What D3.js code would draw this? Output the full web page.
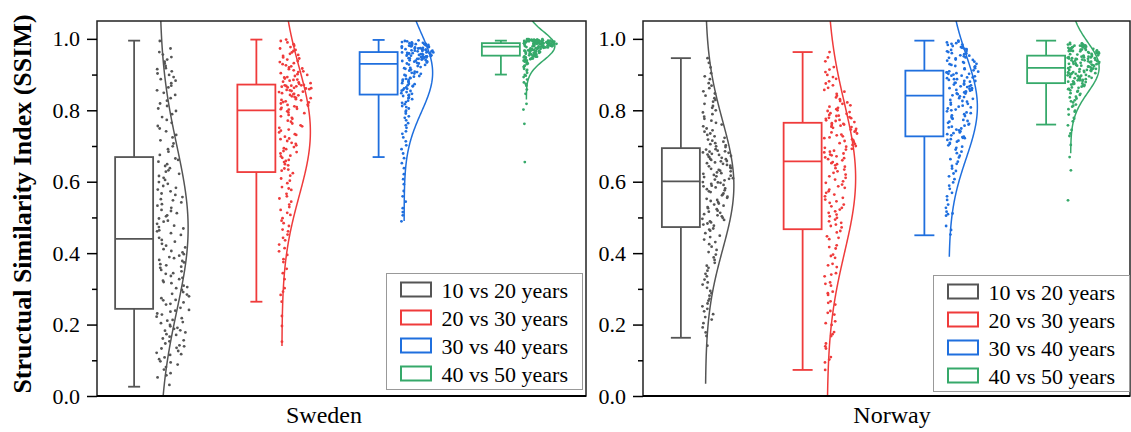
<!DOCTYPE html>
<html lang="en">
<head>
<meta charset="UTF-8">
<title>SSIM raincloud plots</title>
<script src="https://d3js.org/d3.v7.min.js"></script>
<style>
  body { margin: 0; background: #fff; }
</style>
</head>
<body>
<div id="chart"></div>
<script>
const groups = ["10 vs 20 years", "20 vs 30 years", "30 vs 40 years", "40 vs 50 years"];
const colors = ["#555555", "#ef3b3b", "#1f6fde", "#36a96a"];
const regions = ["Sweden", "Norway"];
const yTicks = [0, 0.2, 0.4, 0.6, 0.8, 1.0];
const yMinorTicks = [0.1, 0.3, 0.5, 0.7, 0.9];

// box stats: [lower whisker, Q1, median, Q3, upper whisker]
const swedenBox = [
  [0.026, 0.244, 0.440, 0.669, 0.995],
  [0.264, 0.627, 0.800, 0.872, 0.998],
  [0.669, 0.844, 0.930, 0.963, 0.997],
  [0.900, 0.953, 0.978, 0.988, 0.995]
];
const norwayBox = [
  [0.163, 0.473, 0.601, 0.694, 0.946],
  [0.073, 0.467, 0.657, 0.765, 0.963],
  [0.450, 0.727, 0.841, 0.911, 0.995],
  [0.760, 0.876, 0.919, 0.953, 0.995]
];

// fitted normal curves: [mean, sd, from, to]
const swedenCurve = [
  [0.47, 0.23, 0.00, 1.10],
  [0.74, 0.18, 0.14, 1.10],
  [0.905, 0.11, 0.49, 1.10],
  [0.98, 0.04, 0.83, 1.10]
];
const norwayCurve = [
  [0.59, 0.18, 0.034, 1.10],
  [0.61, 0.21, 0.00, 1.10],
  [0.81, 0.145, 0.39, 1.10],
  [0.92, 0.07, 0.68, 1.10]
];

// SSIM values
const swe1020 = [0.031,0.052,0.058,0.074,0.081,0.094,0.097,0.108,0.115,0.117,0.126,0.133,0.139,0.142,0.153,0.156,0.166,0.171,0.173,0.184,0.188,0.191,0.199,0.204,0.211,0.213,0.222,0.228,0.236,0.241,
  0.247,0.256,0.258,0.268,0.269,0.279,0.284,0.286,0.297,0.302,0.305,0.316,0.319,0.327,0.331,0.342,0.344,0.353,0.359,0.366,0.369,0.378,0.386,0.389,0.397,0.406,0.411,0.421,0.426,0.437,
  0.443,0.451,0.461,0.464,0.473,0.477,0.488,0.491,0.503,0.506,0.518,0.521,0.533,0.537,0.548,0.551,0.563,0.567,0.578,0.583,0.594,0.599,0.611,0.616,0.628,0.632,0.644,0.649,0.661,0.665,
  0.675,0.684,0.699,0.707,0.724,0.731,0.749,0.756,0.773,0.781,0.798,0.805,0.819,0.827,0.843,0.849,0.864,0.869,0.883,0.887,0.899,0.903,0.915,0.918,0.931,0.936,0.949,0.956,0.973,0.994,
  0.064,0.088,0.103,0.121,0.135,0.147,0.161,0.178,0.183,0.195,0.207,0.218,0.231,0.239,
  0.262,0.274,0.291,0.309,0.323,0.336,0.349,0.362,0.374,0.381,0.393,0.402,0.416,0.432,
  0.456,0.469,0.482,0.497,0.512,0.527,0.542,0.557,0.573,0.588,0.605,0.622,0.638,0.656,
  0.691,0.716,0.741,0.765,0.789,0.812,0.834,0.856,0.876,0.893,0.909,0.924,0.942,0.963];
const swe2030 = [0.152,0.224,0.264,0.283,0.302,0.327,0.344,0.375,0.383,0.405,0.414,0.436,0.443,0.461,0.466,0.484,0.491,0.507,0.513,0.529,0.536,0.553,0.559,0.577,0.585,0.603,0.609,0.624,
  0.631,0.637,0.646,0.649,0.658,0.661,0.671,0.673,0.683,0.686,0.694,0.697,0.706,0.709,0.719,0.721,0.731,0.733,0.743,0.746,0.755,0.758,0.768,0.771,0.779,0.783,0.792,0.797,
  0.802,0.804,0.809,0.811,0.815,0.816,0.822,0.823,0.828,0.829,0.834,0.835,0.839,0.842,0.845,0.846,0.851,0.852,0.856,0.857,0.861,0.862,0.864,0.866,0.867,0.869,0.870,0.871,
  0.874,0.878,0.880,0.885,0.886,0.892,0.893,0.899,0.901,0.907,0.909,0.915,0.917,0.923,0.926,0.932,0.935,0.942,0.945,0.952,0.955,0.962,0.966,0.973,0.977,0.985,0.990,0.998,
  0.196,0.292,0.356,0.395,0.424,0.452,0.476,0.498,0.521,0.544,0.566,0.581,0.596,0.617,
  0.634,0.655,0.667,0.679,0.691,0.702,0.714,0.726,0.738,0.751,0.763,0.776,0.787,0.794,
  0.803,0.807,0.813,0.819,0.825,0.831,0.837,0.843,0.848,0.854,0.859,0.863,0.868,0.870,
  0.876,0.883,0.889,0.896,0.904,0.912,0.920,0.929,0.938,0.948,0.958,0.969,0.981,0.994];
const swe3040 = [0.489,0.506,0.526,0.544,0.574,0.593,0.621,0.638,0.666,0.679,0.702,0.713,0.734,0.741,0.758,0.764,0.779,0.783,0.796,0.799,0.809,0.812,0.821,0.823,0.831,0.834,0.840,0.842,
  0.846,0.848,0.854,0.855,0.860,0.861,0.867,0.868,0.873,0.874,0.879,0.880,0.885,0.886,0.890,0.891,0.896,0.897,0.902,0.903,0.907,0.908,0.913,0.914,0.918,0.919,0.924,0.927,
  0.931,0.931,0.934,0.935,0.937,0.939,0.940,0.941,0.943,0.944,0.945,0.947,0.948,0.949,0.950,0.951,0.952,0.953,0.954,0.956,0.956,0.957,0.958,0.959,0.960,0.961,0.962,0.962,
  0.964,0.965,0.966,0.967,0.968,0.969,0.970,0.971,0.972,0.973,0.974,0.975,0.976,0.977,0.978,0.979,0.980,0.981,0.982,0.983,0.984,0.985,0.986,0.988,0.989,0.991,0.993,0.996,
  0.515,0.559,0.607,0.652,0.691,0.724,0.751,0.772,0.791,0.805,0.817,0.827,0.836,0.843,
  0.851,0.857,0.864,0.870,0.876,0.882,0.888,0.894,0.899,0.905,0.911,0.916,0.921,0.928,
  0.933,0.936,0.938,0.942,0.944,0.946,0.949,0.951,0.953,0.955,0.957,0.959,0.960,0.962,
  0.965,0.967,0.969,0.971,0.973,0.975,0.977,0.979,0.981,0.983,0.985,0.987,0.990,0.994];
const swe4050 = [0.655,0.762,0.818,0.846,0.858,0.869,0.878,0.886,0.893,0.899,0.905,0.911,0.916,0.921,0.925,0.929,0.933,0.936,0.939,0.941,0.943,0.945,0.947,0.948,0.949,0.950,0.951,0.952,
  0.954,0.955,0.956,0.957,0.958,0.959,0.960,0.961,0.962,0.963,0.964,0.965,0.966,0.966,0.967,0.968,0.969,0.970,0.971,0.971,0.972,0.973,0.974,0.975,0.975,0.976,0.977,0.977,
  0.978,0.979,0.979,0.980,0.980,0.981,0.981,0.982,0.982,0.983,0.983,0.984,0.984,0.984,0.985,0.985,0.985,0.986,0.986,0.986,0.987,0.987,0.987,0.988,0.988,0.988,0.988,0.988,
  0.989,0.989,0.989,0.990,0.990,0.990,0.991,0.991,0.991,0.992,0.992,0.992,0.993,0.993,0.993,0.994,0.994,0.995,0.995,0.995,0.996,0.996,0.997,0.997,0.998,0.998,0.999,0.999,
  0.802,0.874,0.897,0.913,0.923,0.931,0.937,0.940,0.944,0.946,0.948,0.950,0.951,0.953,
  0.955,0.957,0.959,0.961,0.963,0.965,0.967,0.969,0.970,0.972,0.974,0.975,0.976,0.977,
  0.978,0.979,0.980,0.981,0.982,0.983,0.984,0.985,0.985,0.986,0.987,0.987,0.988,0.988,
  0.989,0.990,0.990,0.991,0.992,0.992,0.993,0.994,0.994,0.995,0.996,0.997,0.998,0.999];

const nor1020 = [0.141,0.168,0.192,0.204,0.221,0.229,0.244,0.251,0.267,0.272,0.288,0.294,0.312,0.318,0.335,0.342,0.359,0.365,0.381,0.388,0.403,0.409,0.425,0.431,0.445,0.449,0.463,0.469,
  0.477,0.483,0.486,0.493,0.496,0.503,0.506,0.513,0.516,0.523,0.526,0.533,0.536,0.543,0.546,0.552,0.555,0.562,0.564,0.571,0.573,0.579,0.581,0.587,0.589,0.594,0.597,0.599,
  0.604,0.608,0.610,0.615,0.617,0.622,0.624,0.629,0.631,0.636,0.638,0.643,0.645,0.650,0.652,0.657,0.658,0.663,0.664,0.669,0.670,0.675,0.676,0.681,0.682,0.684,0.687,0.690,
  0.697,0.702,0.705,0.712,0.715,0.723,0.727,0.735,0.740,0.749,0.755,0.765,0.771,0.782,0.789,0.800,0.807,0.818,0.824,0.834,0.841,0.853,0.862,0.876,0.887,0.904,0.920,0.946,
  0.178,0.214,0.237,0.259,0.281,0.303,0.326,0.351,0.373,0.396,0.418,0.438,0.456,0.466,
  0.480,0.489,0.499,0.509,0.519,0.529,0.539,0.549,0.558,0.567,0.576,0.584,0.591,0.598,
  0.606,0.613,0.619,0.626,0.633,0.640,0.647,0.654,0.661,0.667,0.672,0.678,0.685,0.691,
  0.699,0.708,0.718,0.731,0.744,0.760,0.776,0.794,0.812,0.829,0.847,0.869,0.895,0.933];
const nor2030 = [0.073,0.094,0.109,0.133,0.147,0.168,0.179,0.199,0.209,0.228,0.238,0.256,0.265,0.283,0.292,0.309,0.318,0.335,0.344,0.361,0.370,0.387,0.396,0.413,0.422,0.439,0.447,0.462,
  0.472,0.480,0.485,0.494,0.499,0.508,0.513,0.522,0.527,0.536,0.541,0.550,0.555,0.564,0.569,0.578,0.583,0.592,0.597,0.606,0.611,0.620,0.625,0.634,0.638,0.646,0.649,0.655,
  0.660,0.666,0.668,0.674,0.676,0.682,0.684,0.690,0.692,0.698,0.700,0.706,0.708,0.714,0.716,0.722,0.724,0.730,0.732,0.738,0.740,0.746,0.748,0.753,0.754,0.759,0.760,0.764,
  0.767,0.772,0.773,0.778,0.779,0.784,0.785,0.790,0.792,0.798,0.800,0.807,0.810,0.818,0.822,0.831,0.836,0.846,0.852,0.863,0.870,0.881,0.888,0.899,0.907,0.921,0.937,0.963,
  0.102,0.139,0.173,0.204,0.233,0.261,0.288,0.314,0.340,0.366,0.392,0.417,0.443,0.458,
  0.476,0.489,0.503,0.517,0.531,0.545,0.559,0.573,0.587,0.601,0.615,0.629,0.642,0.652,
  0.663,0.671,0.679,0.687,0.695,0.703,0.711,0.719,0.727,0.735,0.743,0.751,0.757,0.762,
  0.770,0.776,0.781,0.787,0.795,0.803,0.814,0.826,0.841,0.857,0.875,0.893,0.914,0.948];
const nor3040 = [0.452,0.476,0.505,0.511,0.516,0.536,0.549,0.569,0.580,0.598,0.607,0.623,0.630,0.644,0.650,0.663,0.668,0.680,0.684,0.695,0.698,0.706,0.709,0.715,0.717,0.722,0.723,0.726,
  0.730,0.736,0.738,0.744,0.746,0.752,0.754,0.760,0.762,0.768,0.770,0.776,0.778,0.784,0.786,0.792,0.794,0.800,0.802,0.808,0.810,0.816,0.818,0.824,0.826,0.832,0.834,0.839,
  0.842,0.847,0.847,0.852,0.852,0.857,0.857,0.862,0.862,0.867,0.867,0.872,0.872,0.877,0.877,0.882,0.882,0.887,0.887,0.892,0.892,0.897,0.897,0.902,0.902,0.906,0.906,0.909,
  0.912,0.917,0.918,0.923,0.924,0.929,0.930,0.935,0.936,0.941,0.942,0.947,0.948,0.953,0.954,0.959,0.960,0.965,0.966,0.971,0.972,0.977,0.978,0.983,0.984,0.988,0.990,0.995,
  0.465,0.509,0.527,0.559,0.589,0.615,0.637,0.656,0.673,0.690,0.702,0.712,0.719,0.725,
  0.733,0.741,0.749,0.757,0.765,0.773,0.781,0.789,0.797,0.805,0.813,0.821,0.829,0.837,
  0.845,0.850,0.855,0.860,0.865,0.870,0.875,0.880,0.885,0.890,0.895,0.900,0.904,0.908,
  0.915,0.921,0.927,0.933,0.939,0.945,0.951,0.957,0.963,0.969,0.975,0.980,0.986,0.992];
const nor4050 = [0.548,0.632,0.669,0.703,0.728,0.745,0.758,0.769,0.779,0.788,0.796,0.803,0.810,0.816,0.822,0.828,0.833,0.838,0.843,0.848,0.852,0.856,0.860,0.863,0.866,0.869,0.872,0.874,
  0.878,0.880,0.881,0.884,0.884,0.887,0.887,0.890,0.891,0.893,0.894,0.896,0.897,0.899,0.900,0.902,0.903,0.905,0.906,0.907,0.908,0.910,0.911,0.912,0.913,0.915,0.916,0.918,
  0.920,0.922,0.923,0.925,0.925,0.927,0.928,0.930,0.930,0.932,0.933,0.935,0.935,0.937,0.938,0.940,0.940,0.941,0.943,0.944,0.945,0.946,0.947,0.948,0.949,0.950,0.951,0.952,
  0.954,0.956,0.957,0.959,0.960,0.961,0.962,0.964,0.965,0.966,0.967,0.969,0.970,0.971,0.972,0.973,0.975,0.976,0.977,0.978,0.979,0.980,0.981,0.982,0.984,0.985,0.987,0.989,
  0.735,0.776,0.799,0.813,0.825,0.836,0.846,0.854,0.859,0.864,0.868,0.871,0.873,0.875,
  0.879,0.882,0.885,0.888,0.892,0.895,0.898,0.901,0.904,0.907,0.910,0.913,0.915,0.917,
  0.921,0.924,0.926,0.929,0.931,0.934,0.936,0.939,0.942,0.944,0.946,0.948,0.950,0.952,
  0.955,0.958,0.961,0.963,0.966,0.968,0.970,0.972,0.974,0.977,0.979,0.981,0.983,0.986];

const swedenPoints = [swe1020, swe2030, swe3040, swe4050];
const norwayPoints = [nor1020, nor2030, nor3040, nor4050];

const W = 1131, H = 432;
const yTop = 21, yBottom = 396;
const serif = "Liberation Serif, Tinos, Times New Roman, DejaVu Serif, serif";

const svg = d3.select("#chart").append("svg")
  .attr("width", W).attr("height", H)
  .attr("font-family", serif)
  .style("font-family", serif);

const y = d3.scaleLinear().domain([0, 1.05]).range([yBottom, yTop]);

const panels = [
  { name: regions[0], x0: 97, x1: 586, labelX: 324, cap: 12, boxShift: -24, base: 1.5,
    box: swedenBox, curve: swedenCurve, pts: swedenPoints, legend: [386.5, 273.5] },
  { name: regions[1], x0: 643, x1: 1130, labelX: 892, cap: 20, boxShift: -23, base: 1.5,
    box: norwayBox, curve: norwayCurve, pts: norwayPoints, legend: [933.5, 275.5] }
];

// deterministic jitter
function jit(i, g) {
  const s = Math.sin((i + 1) * 12.9898 + g * 78.233) * 43758.5453;
  return s - Math.floor(s);
}

function kde(values) {
  const n = values.length;
  const sd = d3.deviation(values);
  const sorted = values.slice().sort(d3.ascending);
  const iqr = d3.quantileSorted(sorted, 0.75) - d3.quantileSorted(sorted, 0.25);
  const h = 0.9 * Math.min(sd, iqr / 1.34) * Math.pow(n, -0.2);
  return v => d3.mean(values, d => Math.exp(-0.5 * ((v - d) / h) ** 2));
}

function serifText(sel, size, weight) {
  return sel.attr("font-family", serif).style("font-family", serif)
    .style("font-size", size + "px").style("font-weight", weight || "normal")
    .attr("fill", "#000");
}

panels.forEach((p, pi) => {
  const x = d3.scaleBand().domain(groups).range([p.x0, p.x1]);
  const g = svg.append("g");

  const clipId = "clip" + pi;
  svg.append("clipPath").attr("id", clipId)
    .append("rect").attr("x", p.x0).attr("y", yTop).attr("width", p.x1 - p.x0).attr("height", yBottom - yTop);

  const plot = g.append("g").attr("clip-path", `url(#${clipId})`);

  groups.forEach((grp, gi) => {
    const color = colors[gi];
    const base = x(grp) + x.bandwidth() / 2 + p.base;
    const vals = p.pts[gi];

    // scatter, spread by local density
    const dens = kde(vals);
    const grid = d3.range(0, 1.0001, 0.005);
    const dmax = d3.max(grid, dens);
    plot.append("g").selectAll("circle")
      .data(vals)
      .join("circle")
      .attr("cx", (d, i) => base - 3 + jit(i, gi + pi * 4) * (30 * dens(d) / dmax + 3))
      .attr("cy", d => y(d))
      .attr("r", 1.4)
      .attr("fill", color);

    // normal curve
    const [mu, sd, lo, hi] = p.curve[gi];
    const line = d3.line()
      .x(v => base + 28.5 * Math.exp(-0.5 * ((v - mu) / sd) ** 2))
      .y(v => y(v));
    const pts = d3.range(lo, hi + 0.0001, 0.004);
    plot.append("path")
      .attr("d", line(pts))
      .attr("fill", "none")
      .attr("stroke", color)
      .attr("stroke-width", 1.5);

    // box plot
    const [wl, q1, med, q3, wh] = p.box[gi];
    const bc = x(grp) + x.bandwidth() / 2 + p.boxShift;
    const bw = 38;
    const bg = plot.append("g").attr("stroke", color).attr("stroke-width", 1.8).attr("fill", "none");
    bg.append("line").attr("x1", bc).attr("x2", bc).attr("y1", y(q3)).attr("y2", y(wh));
    bg.append("line").attr("x1", bc).attr("x2", bc).attr("y1", y(q1)).attr("y2", y(wl));
    bg.append("line").attr("x1", bc - p.cap / 2).attr("x2", bc + p.cap / 2).attr("y1", y(wh)).attr("y2", y(wh));
    bg.append("line").attr("x1", bc - p.cap / 2).attr("x2", bc + p.cap / 2).attr("y1", y(wl)).attr("y2", y(wl));
    bg.append("rect").attr("x", bc - bw / 2).attr("y", y(q3)).attr("width", bw).attr("height", y(q1) - y(q3));
    bg.append("line").attr("x1", bc - bw / 2).attr("x2", bc + bw / 2).attr("y1", y(med)).attr("y2", y(med));
  });

  // frame
  g.append("rect")
    .attr("x", p.x0).attr("y", yTop).attr("width", p.x1 - p.x0).attr("height", yBottom - yTop)
    .attr("fill", "none").attr("stroke", "#222").attr("stroke-width", 1.5);
  g.append("line")
    .attr("x1", p.x0).attr("x2", p.x1).attr("y1", yBottom).attr("y2", yBottom)
    .attr("stroke", "#000").attr("stroke-width", 2.2);

  // y axis
  const ax = g.append("g").attr("transform", `translate(${p.x0},0)`)
    .call(d3.axisLeft(y).tickValues(yTicks).tickSize(10).tickPadding(7).tickFormat(d3.format(".1f")));
  ax.attr("font-family", serif);
  ax.select(".domain").remove();
  ax.selectAll("line").attr("stroke", "#000").attr("stroke-width", 1.5);
  serifText(ax.selectAll("text"), 22);
  const minor = g.append("g").attr("transform", `translate(${p.x0},0)`)
    .call(d3.axisLeft(y).tickValues(yMinorTicks).tickSize(5).tickFormat(""));
  minor.select(".domain").remove();
  minor.selectAll("line").attr("stroke", "#000").attr("stroke-width", 1.5);

  // x label
  serifText(g.append("text"), 24)
    .attr("x", p.labelX).attr("y", 423)
    .attr("text-anchor", "middle")
    .text(p.name);

  // legend
  const [lx, ly] = p.legend;
  const lg = g.append("g").attr("transform", `translate(${lx},${ly})`);
  lg.append("rect").attr("width", 196).attr("height", 116)
    .attr("fill", "#fff").attr("stroke", "#999").attr("stroke-width", 1);
  groups.forEach((grp, gi) => {
    const cy = 16 + gi * 28;
    lg.append("rect")
      .attr("x", 14.5).attr("y", cy - 7).attr("width", 30).attr("height", 14)
      .attr("fill", "none").attr("stroke", colors[gi]).attr("stroke-width", 2);
    serifText(lg.append("text"), 22)
      .attr("x", 55).attr("y", cy + 8.5)
      .text(grp);
  });
});

// y title
serifText(svg.append("text"), 26, "bold")
  .attr("transform", `translate(22.5,204) rotate(-90)`)
  .attr("text-anchor", "middle")
  .attr("dominant-baseline", "central")
  .text("Structual Similarity Index (SSIM)");
</script>
</body>
</html>
